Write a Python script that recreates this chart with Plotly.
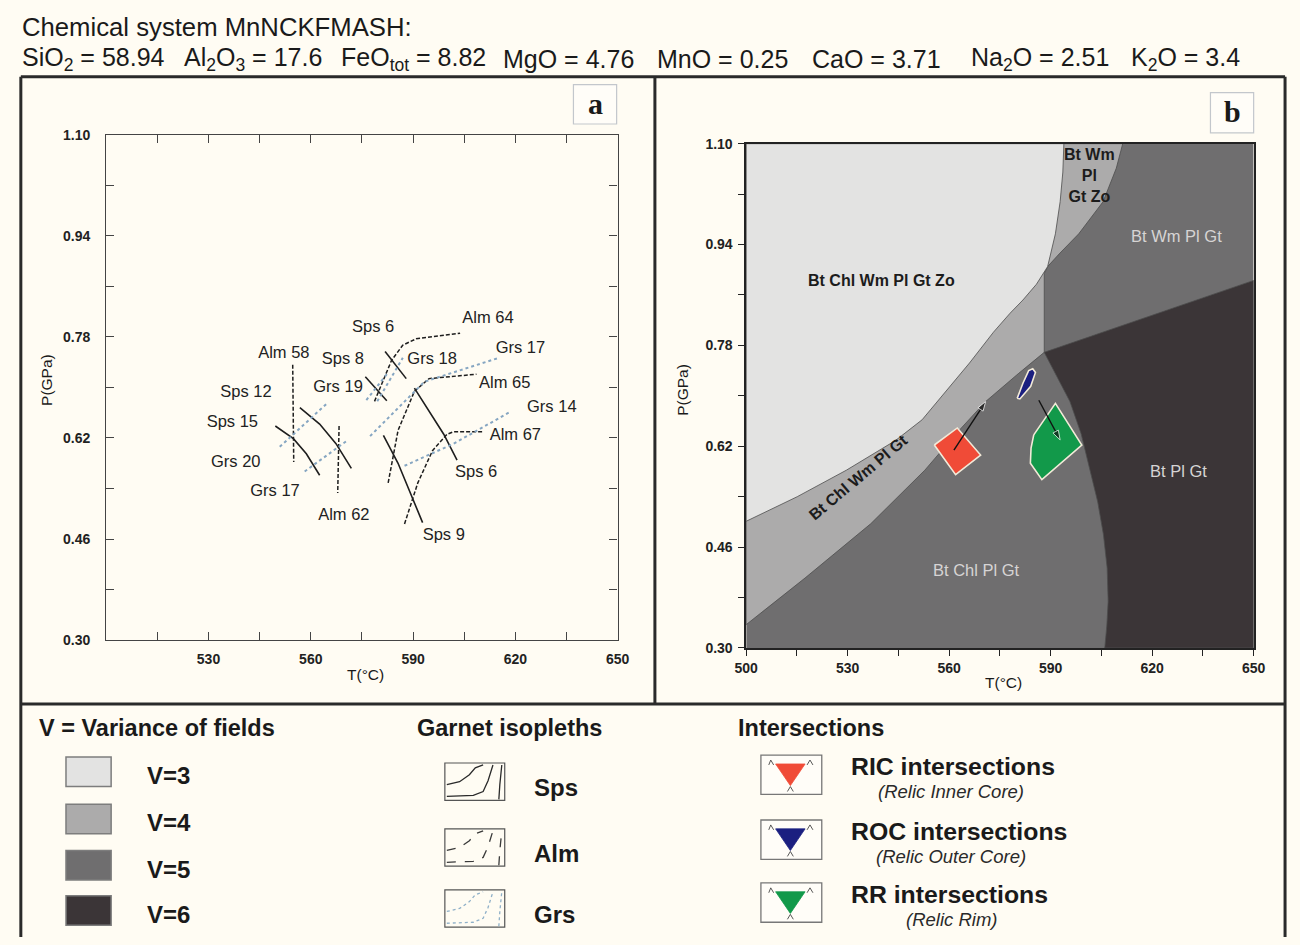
import plotly.graph_objects as go

W, H = 1300, 945
BG = "#fffcf3"
FONT = "Liberation Sans, Arial, sans-serif"

# ---------------- header: bulk composition ----------------
system_name = "Chemical system MnNCKFMASH:"
oxide_names = ["SiO<sub>2</sub>", "Al<sub>2</sub>O<sub>3</sub>", "FeO<sub>tot</sub>", "MgO",
               "MnO", "CaO", "Na<sub>2</sub>O", "K<sub>2</sub>O"]
oxide_wt = ["58.94", "17.6", "8.82", "4.76", "0.25", "3.71", "2.51", "3.4"]
oxide_x = [10, 175, 335, 500, 657, 815, 977, 1140]

# ---------------- panel a: garnet isopleths (T degC, P GPa) ----------------
sps15_T = [549.6, 554.9, 558.7, 562.6]; sps15_P = [0.639, 0.619, 0.595, 0.561]
sps12_T = [556.8, 562.6, 567.4, 571.9]; sps12_P = [0.668, 0.642, 0.611, 0.572]
sps8_T = [576.0, 582.3];               sps8_P = [0.717, 0.679]
sps6a_T = [581.8, 588.0];              sps6a_P = [0.757, 0.714]
sps6b_T = [590.4, 599.0, 602.9];       sps6b_P = [0.699, 0.626, 0.585]
sps9_T = [581.3, 585.6, 592.8];        sps9_P = [0.624, 0.580, 0.486]

alm58_T = [554.7, 555.0];              alm58_P = [0.736, 0.582]
alm62_T = [568.3, 567.9];              alm62_P = [0.639, 0.533]
alm64_T = [578.7, 583.7, 587.0, 590.9, 603.8]; alm64_P = [0.678, 0.743, 0.767, 0.777, 0.786]
alm65_T = [582.7, 585.6, 590.4, 594.7, 608.6]; alm65_P = [0.549, 0.632, 0.694, 0.714, 0.721]
alm67_T = [587.5, 591.4, 595.7, 600.0, 601.9, 610.6]; alm67_P = [0.484, 0.549, 0.600, 0.626, 0.630, 0.630]

grs20_T = [550.9, 565.0];              grs20_P = [0.606, 0.676]
grs17a_T = [558.2, 570.7];             grs17a_P = [0.567, 0.616]
grs19_T = [576.3, 582.6];              grs19_P = [0.680, 0.723]
grs18_T = [579.5, 587.0];              grs18_P = [0.678, 0.747]
grs17b_T = [577.4, 583.8, 593.3, 615.2]; grs17b_P = [0.623, 0.658, 0.709, 0.747]
grs14_T = [587.5, 601.9, 618.7];       grs14_P = [0.576, 0.611, 0.662]

iso_text = ["Sps 6", "Alm 64", "Alm 58", "Sps 8", "Grs 18", "Grs 17", "Sps 12", "Grs 19",
            "Alm 65", "Sps 15", "Grs 14", "Alm 67", "Grs 20", "Sps 6", "Grs 17", "Alm 62", "Sps 9"]
iso_text_T = [578.3, 612.0, 552.1, 569.4, 595.6, 621.5, 541.0, 568.0,
              616.9, 537.0, 630.7, 620.0, 538.0, 608.5, 549.5, 569.7, 599.0]
iso_text_P = [0.795, 0.808, 0.753, 0.744, 0.744, 0.761, 0.691, 0.699,
              0.706, 0.644, 0.667, 0.624, 0.580, 0.565, 0.535, 0.496, 0.465]

# ---------------- panel b: pseudosection field boundaries ----------------
v3_T = [500.0, 515.1, 529.6, 544.1, 552.0, 558.6, 566.0, 573.1, 578.0, 581.8, 585.8, 589.1, 591.4, 592.8, 593.6, 593.9]
v3_P = [0.501, 0.540, 0.582, 0.629, 0.662, 0.704, 0.752, 0.801, 0.831, 0.852, 0.877, 0.905, 0.957, 1.008, 1.055, 1.100]
band_low_T = [500.0, 517.4, 536.8, 552.8, 562.4, 570.8, 580.4, 588.1]
band_low_P = [0.337, 0.411, 0.497, 0.582, 0.642, 0.691, 0.735, 0.769]
v45_T = [588.1, 588.1, 589.1, 592.5, 598.3, 605.5, 609.4, 611.3]
v45_P = [0.769, 0.894, 0.905, 0.925, 0.957, 1.008, 1.061, 1.100]
v56_T = [588.1, 650.0]
v56_P = [0.769, 0.883]
v6_T = [588.1, 592.0, 595.7, 599.0, 601.6, 603.9, 605.6, 606.7, 607.0, 606.6, 606.0]
v6_P = [0.769, 0.728, 0.691, 0.640, 0.585, 0.532, 0.480, 0.427, 0.374, 0.335, 0.300]

ric_T = [555.6, 562.4, 569.3, 561.9]
ric_P = [0.622, 0.649, 0.606, 0.575]
roc_T = [580.1, 581.8, 583.5, 584.7, 585.5, 584.1, 580.9]
roc_P = [0.696, 0.720, 0.740, 0.743, 0.737, 0.715, 0.695]
rr_T = [585.0, 591.4, 599.2, 587.4, 584.0, 584.2]
rr_P = [0.638, 0.688, 0.622, 0.567, 0.593, 0.617]

path_from_T = [561.4, 586.5]; path_from_P = [0.614, 0.693]
path_to_T = [570.8, 592.8];   path_to_P = [0.691, 0.630]

field_text = ["Bt Chl Wm Pl Gt Zo", "Bt Wm<br>Pl<br>Gt Zo", "Bt Wm Pl Gt",
              "Bt Chl Wm Pl Gt", "Bt Pl Gt", "Bt Chl Pl Gt"]
field_T = [540.0, 601.5, 627.1, 533.1, 627.7, 568.2]
field_P = [0.883, 1.050, 0.953, 0.570, 0.581, 0.423]

T_MIN, T_MAX, P_MIN, P_MAX = 500, 650, 0.30, 1.10
P_TICKS = [round(0.30 + 0.16 * i, 2) for i in range(6)]
P_MINOR = [round(0.38 + 0.16 * i, 2) for i in range(5)]

V_COLORS = {3: "#e3e3e2", 4: "#acabab", 5: "#6f6e6f", 6: "#3b3537"}
RIC_C, ROC_C, RR_C = "#f04b37", "#1b1f80", "#12994a"


def fx(x):
    return x / W


def fy(y):
    return 1 - y / H


fig = go.Figure()

# ---- panel a traces ----
solid = dict(color="#1e1e1e", width=1.6)
dashed = dict(color="#1e1e1e", width=1.5, dash="4px,2px")
dotted = dict(color="#86a6c2", width=2.0, dash="dot")
for T, P, ln in [
    (sps15_T, sps15_P, solid), (sps12_T, sps12_P, solid), (sps8_T, sps8_P, solid),
    (sps6a_T, sps6a_P, solid), (sps6b_T, sps6b_P, solid), (sps9_T, sps9_P, solid),
    (alm58_T, alm58_P, dashed), (alm62_T, alm62_P, dashed), (alm64_T, alm64_P, dashed),
    (alm65_T, alm65_P, dashed), (alm67_T, alm67_P, dashed),
    (grs20_T, grs20_P, dotted), (grs17a_T, grs17a_P, dotted), (grs19_T, grs19_P, dotted),
    (grs18_T, grs18_P, dotted), (grs17b_T, grs17b_P, dotted), (grs14_T, grs14_P, dotted),
]:
    fig.add_trace(go.Scatter(x=T, y=P, mode="lines", line=ln, hoverinfo="skip",
                             showlegend=False, xaxis="x", yaxis="y"))

fig.add_trace(go.Scatter(x=iso_text_T, y=iso_text_P, mode="text", text=iso_text,
                         textfont=dict(family=FONT, size=16.5, color="#222"),
                         showlegend=False, hoverinfo="skip", xaxis="x", yaxis="y"))

# ---- panel b: filled fields ----
edge = dict(color="#4d4d4d", width=0.8)


def field(T, P, color, line=edge):
    fig.add_trace(go.Scatter(x=T, y=P, mode="lines", fill="toself", fillcolor=color,
                             line=line, hoverinfo="skip", showlegend=False,
                             xaxis="x2", yaxis="y2"))


field([T_MIN, T_MAX, T_MAX, T_MIN, T_MIN], [P_MIN, P_MIN, P_MAX, P_MAX, P_MIN],
      V_COLORS[5], dict(width=0))
field(band_low_T + v45_T[1:] + [T_MIN, T_MIN],
      band_low_P + v45_P[1:] + [P_MAX, band_low_P[0]], V_COLORS[4])
field(v3_T + [T_MIN, T_MIN], v3_P + [P_MAX, v3_P[0]], V_COLORS[3])
field(v56_T + [T_MAX] + v6_T[::-1], v56_P + [P_MIN] + v6_P[::-1], V_COLORS[6])

outline = dict(color="#f2ead8", width=1.6)
field(ric_T + ric_T[:1], ric_P + ric_P[:1], RIC_C, outline)
field(roc_T + roc_T[:1], roc_P + roc_P[:1], ROC_C, outline)
field(rr_T + rr_T[:1], rr_P + rr_P[:1], RR_C, outline)

# P-T path arrows
for t0, p0, t1, p1 in zip(path_from_T, path_from_P, path_to_T, path_to_P):
    fig.add_trace(go.Scatter(x=[t0, t1], y=[p0, p1], mode="lines+markers",
                             line=dict(color="#111", width=1.4),
                             marker=dict(symbol="arrow", size=[0, 10], angleref="previous",
                                         color="#111"),
                             hoverinfo="skip", showlegend=False, xaxis="x2", yaxis="y2"))

annotations = []
for t, T, P in zip(field_text, field_T, field_P):
    dark = t in ("Bt Chl Wm Pl Gt Zo", "Bt Wm<br>Pl<br>Gt Zo", "Bt Chl Wm Pl Gt")
    annotations.append(dict(
        x=T, y=P, xref="x2", yref="y2", text=t, showarrow=False,
        textangle=-40 if t == "Bt Chl Wm Pl Gt" else 0,
        font=dict(family=FONT, size=16 if dark else 16.5,
                  color="#1c1c1c" if dark else "#d6d4d4",
                  weight="bold" if dark else "normal")))


def label(x, y, text, size, bold=False, italic=False, anchor="left", angle=0,
          color="#1a1a1a", family=FONT):
    annotations.append(dict(
        x=fx(x), y=fy(y), xref="paper", yref="paper", text=text, showarrow=False,
        xanchor=anchor, yanchor="middle", textangle=angle,
        font=dict(family=family, size=size, color=color,
                  weight="bold" if bold else "normal",
                  style="italic" if italic else "normal")))


# header
label(8, 19, system_name, 25.7)
for name, val, x in zip(oxide_names, oxide_wt, oxide_x):
    label(x - 2, 52, f"{name} = {val}", 25)

# axis titles
label(360, 678, "T(°C)", 15.5, anchor="center")
label(35, 378, "P(GPa)", 15.5, anchor="center", angle=-90)
label(1010, 686, "T(°C)", 15.5, anchor="center")
label(683, 388, "P(GPa)", 15.5, anchor="center", angle=-90)

# panel tags
label(594, 97, "a", 30, bold=True, anchor="center", family="Liberation Serif, DejaVu Serif, serif")
label(1243, 105, "b", 30, bold=True, anchor="center", family="Liberation Serif, DejaVu Serif, serif")

# legend texts
label(25, 732, "V = Variance of fields", 23.5, bold=True)
variance_levels = [3, 4, 5, 6]
variance_y = [777, 825, 872, 918]
for v, y in zip(variance_levels, variance_y):
    label(135, y + 4, f"V={v}", 24, bold=True)

label(411, 732, "Garnet isopleths", 23.5, bold=True)
isopleth_names = ["Sps", "Alm", "Grs"]
isopleth_y = [793, 860, 922]
for n, y in zip(isopleth_names, isopleth_y):
    label(530, y, n, 24, bold=True)

label(738, 732, "Intersections", 23.5, bold=True)
inter_names = ["RIC intersections", "ROC intersections", "RR intersections"]
inter_sub = ["(Relic Inner Core)", "(Relic Outer Core)", "(Relic Rim)"]
inter_y = [772, 838, 902]
inter_colors = [RIC_C, ROC_C, RR_C]
for n, s, y in zip(inter_names, inter_sub, inter_y):
    label(853, y, n, 24.8, bold=True)
    label(957, y + 25, s, 18.5, italic=True, anchor="center", color="#2a2a2a")

shapes = []


def pline(x0, y0, x1, y1, color="#2a2a2a", width=3):
    shapes.append(dict(type="line", xref="paper", yref="paper", x0=fx(x0), y0=fy(y0),
                       x1=fx(x1), y1=fy(y1), line=dict(color=color, width=width), layer="above"))


def prect(x0, y0, x1, y1, fill, color="#7a7a7a", width=1.2):
    shapes.append(dict(type="rect", xref="paper", yref="paper", x0=fx(x0), y0=fy(y0),
                       x1=fx(x1), y1=fy(y1), fillcolor=fill,
                       line=dict(color=color, width=width), layer="above"))


def ppath(points, color, width=1.2, dash="solid", fill=None, close=False):
    d = "M " + " L ".join(f"{fx(x):.5f},{fy(y):.5f}" for x, y in points)
    if close:
        d += " Z"
    shapes.append(dict(type="path", xref="paper", yref="paper", path=d,
                       line=dict(color=color, width=width, dash=dash),
                       fillcolor=fill if fill else "rgba(0,0,0,0)", layer="above"))


# frame
pline(9, 70, 1297, 70)
pline(9, 70, 9, 945)
pline(1297, 70, 1297, 945)
pline(655, 70, 655, 708)
pline(9, 708, 1297, 708)

# panel tag boxes
prect(572, 78, 616, 118, "#fffdf8", "#c3c7cc", 1.2)
prect(1221, 86, 1265, 127, "#fffdf8", "#c3c7cc", 1.2)

# variance swatches
for v, y in zip(variance_levels, variance_y):
    prect(55, y - 15, 101, y + 15, V_COLORS[v], "#7d7d7d", 1.5)

# isopleth icons
icon_styles = [("#2a2a2a", "solid"), ("#3a3a3a", "dash"), ("#8fb0c8", "dot")]
for (col, dsh), y in zip(icon_styles, isopleth_y):
    top, bot = y - 25, y + 13
    prect(441, top, 502, bot, "rgba(0,0,0,0)", "#555", 1.2)
    ppath([(443, top + 22), (456, top + 19), (466, top + 12), (472, top + 5), (480, top + 2)], col, 1.3, dsh)
    ppath([(443, bot - 4), (470, bot - 5), (480, bot - 9), (485, top + 18), (490, top + 2)], col, 1.3, dsh)
    ppath([(496, bot - 1), (497, top + 22), (499, top + 2)], col, 1.3, dsh)

# intersection icons
for col, y in zip(inter_colors, inter_y):
    top, bot = y - 12, y + 28
    prect(763, top, 825, bot, "#fffdf8", "#777", 1.3)
    ppath([(778, top + 9), (808, top + 9), (793, top + 31)], col, 0.8, fill=col, close=True)
    ppath([(771, top + 10), (773, top + 5), (776, top + 10)], "#444", 0.9)
    ppath([(810, top + 10), (813, top + 5), (816, top + 10)], "#444", 0.9)
    ppath([(790, bot - 3), (793, bot - 8), (796, bot - 3)], "#444", 0.9)

tickfont = dict(size=14, weight="bold", color="#222")
fig.update_layout(
    width=W, height=H, margin=dict(l=0, r=0, t=0, b=0),
    paper_bgcolor=BG, plot_bgcolor=BG, showlegend=False,
    font=dict(family=FONT, color="#1a1a1a"),
    annotations=annotations, shapes=shapes,
    xaxis=dict(domain=[fx(96), fx(617)], range=[T_MIN, T_MAX], anchor="y",
               tickvals=[530, 560, 590, 620, 650],
               minor=dict(tickvals=[515, 545, 575, 605, 635], ticks="inside", ticklen=8,
                          tickcolor="#444"),
               ticks="inside", ticklen=8, tickcolor="#444", showline=True, linecolor="#444",
               linewidth=1.3, mirror="ticks", showgrid=False, zeroline=False,
               ticklabelstandoff=6, tickfont=tickfont),
    yaxis=dict(domain=[fy(643), fy(129)], range=[P_MIN, P_MAX], anchor="x",
               tickvals=P_TICKS, tickformat=".2f",
               minor=dict(tickvals=P_MINOR, ticks="inside", ticklen=8, tickcolor="#444"),
               ticks="inside", ticklen=8, tickcolor="#444", showline=True, linecolor="#444",
               linewidth=1.3, mirror="ticks", showgrid=False, zeroline=False,
               ticklabelstandoff=12, tickfont=tickfont),
    xaxis2=dict(domain=[fx(748), fx(1265)], range=[T_MIN, T_MAX], anchor="y2",
                tickvals=[500, 530, 560, 590, 620, 650],
                minor=dict(tickvals=[515, 545, 575, 605, 635], ticks="outside", ticklen=6,
                           tickcolor="#222"),
                ticks="outside", ticklen=6, tickcolor="#222", showline=True, linecolor="#222",
                linewidth=1.5, mirror=True, showgrid=False, zeroline=False,
                tickfont=tickfont),
    yaxis2=dict(domain=[fy(651), fy(138)], range=[P_MIN, P_MAX], anchor="x2",
                tickvals=P_TICKS, tickformat=".2f",
                minor=dict(tickvals=P_MINOR, ticks="outside", ticklen=6, tickcolor="#222"),
                ticks="outside", ticklen=6, tickcolor="#222", showline=True, linecolor="#222",
                linewidth=1.5, mirror=True, showgrid=False, zeroline=False,
                ticklabelstandoff=3, tickfont=tickfont),
)

fig.write_html("out.html",
               post_script=f"document.body.style.margin='0';document.body.style.background='{BG}';")
